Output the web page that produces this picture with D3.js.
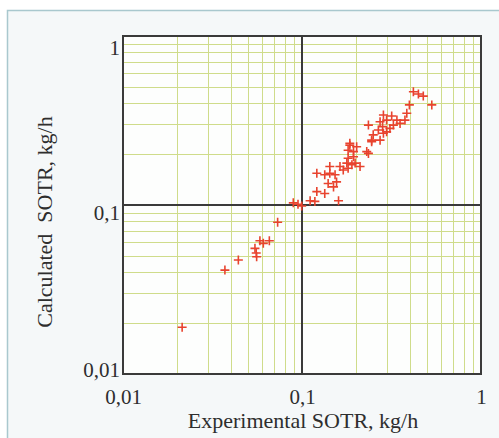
<!DOCTYPE html>
<html lang="en">
	<head>
		<meta charset="UTF-8" />
		<title>SOTR calculated vs experimental</title>
		<style>
			html,
			body {
				margin: 0;
				padding: 0;
				width: 499px;
				height: 438px;
				overflow: hidden;
				background-color: #ffffff;
			}

			svg text {
				font-family: 'Liberation Serif', 'Times New Roman', serif;
				fill: #2e2e2e;
			}
		</style>
	</head>
	<body>
		<svg id="chart" width="499" height="438"></svg>

		<script src="https://d3js.org/d3.v7.min.js"></script>

		<script>
			// experimental vs calculated SOTR, kg/h
			const expSOTR = [
				0.0214, 0.0371, 0.0441, 0.0546, 0.0558, 0.0582, 0.0608, 0.0657, 0.0555, 0.0731,
				0.0894, 0.095, 0.0996, 0.111, 0.118, 0.16, 0.121, 0.134, 0.14, 0.156,
				0.15, 0.134, 0.121, 0.143, 0.143, 0.153, 0.163, 0.17, 0.181, 0.19,
				0.178, 0.198, 0.181, 0.194, 0.211, 0.185, 0.202, 0.194, 0.181, 0.235,
				0.245, 0.185, 0.23, 0.419, 0.447, 0.476, 0.531, 0.398, 0.385, 0.376,
				0.353, 0.339, 0.317, 0.297, 0.285, 0.273, 0.282, 0.267, 0.285, 0.25,
				0.235, 0.245, 0.273, 0.297, 0.324, 0.31
			];
			const calcSOTR = [
				0.0189, 0.0412, 0.0473, 0.0554, 0.0494, 0.0615, 0.0593, 0.0615, 0.052, 0.079,
				0.103, 0.101, 0.0986, 0.106, 0.105, 0.106, 0.12, 0.117, 0.134, 0.137,
				0.128, 0.151, 0.154, 0.154, 0.169, 0.151, 0.169, 0.161, 0.165, 0.173,
				0.177, 0.177, 0.189, 0.193, 0.169, 0.226, 0.221, 0.207, 0.211, 0.202,
				0.237, 0.232, 0.207, 0.468, 0.454, 0.441, 0.391, 0.391, 0.349, 0.318,
				0.304, 0.318, 0.336, 0.318, 0.341, 0.311, 0.291, 0.278, 0.266, 0.26,
				0.297, 0.242, 0.242, 0.271, 0.297, 0.284
			];

			const tickValues = [0.01, 0.1, 1];
			const tickLabels = ['0,01', '0,1', '1'];
			const xTitle = 'Experimental SOTR, kg/h';
			const yTitle = 'Calculated\u00a0 SOTR, kg/h';

			const svg = d3.select('#chart');

			// scanned page panel
			svg.append('rect')
				.attr('x', 7.5)
				.attr('y', 10.5)
				.attr('width', 520)
				.attr('height', 440)
				.attr('fill', '#f5f8f9')
				.attr('stroke', '#a9c8ce')
				.attr('stroke-width', 1.5);

			const plotLeft = 123,
				plotRight = 481,
				plotTop = 36,
				plotBottom = 374;

			const x = d3.scaleLog().domain([0.01, 1]).range([plotLeft, plotRight]);
			const y = d3.scaleLog().domain([0.01, 1]).range([plotBottom, plotTop]);

			svg.append('rect')
				.attr('x', plotLeft)
				.attr('y', plotTop)
				.attr('width', plotRight - plotLeft)
				.attr('height', plotBottom - plotTop)
				.attr('fill', '#fdfefd');

			// minor grid
			const grid = svg.append('g').attr('stroke', '#cfdc8a').attr('stroke-width', 1);
			grid.selectAll('line.gx')
				.data(x.ticks())
				.join('line')
				.attr('class', 'gx')
				.attr('x1', (d) => Math.round(x(d)) + 0.5)
				.attr('x2', (d) => Math.round(x(d)) + 0.5)
				.attr('y1', plotTop)
				.attr('y2', plotBottom);
			grid.selectAll('line.gy')
				.data(y.ticks())
				.join('line')
				.attr('class', 'gy')
				.attr('y1', (d) => Math.round(y(d)) + 0.5)
				.attr('y2', (d) => Math.round(y(d)) + 0.5)
				.attr('x1', plotLeft)
				.attr('x2', plotRight);

			// decade lines and frame
			const major = svg.append('g').attr('stroke', '#3a3a3a').attr('stroke-width', 2);
			major.append('line').attr('x1', x(0.1)).attr('x2', x(0.1)).attr('y1', plotTop).attr('y2', plotBottom);
			major.append('line').attr('y1', y(0.1)).attr('y2', y(0.1)).attr('x1', plotLeft).attr('x2', plotRight);
			major.append('rect')
				.attr('x', plotLeft)
				.attr('y', plotTop)
				.attr('width', plotRight - plotLeft)
				.attr('height', plotBottom - plotTop)
				.attr('fill', 'none');

			// points
			const pts = expSOTR.map((d, i) => ({ x: d, y: calcSOTR[i] }));
			const h = 4.5;
			svg.append('g')
				.selectAll('path')
				.data(pts)
				.join('path')
				.attr('d', (d) => {
					const cx = x(d.x),
						cy = y(d.y);
					return `M${cx - h},${cy}H${cx + h}M${cx},${cy - h}V${cy + h}`;
				})
				.attr('stroke', '#e8432e')
				.attr('stroke-width', 1.6)
				.attr('fill', 'none');

			// tick labels
			const xAxis = svg.append('g')
				.attr('transform', `translate(0,${plotBottom})`)
				.call(
					d3.axisBottom(x)
						.tickValues(tickValues)
						.tickFormat((d, i) => tickLabels[i])
						.tickSize(0)
						.tickPadding(15)
				);
			xAxis.select('.domain').remove();
			xAxis.selectAll('text').attr('font-size', 21).style('font-family', null);

			// the scan puts the y labels a little off their lines, differently for each
			const yLabelDy = ['0.14em', '0.71em', '0.9em'];
			const yAxis = svg.append('g')
				.attr('transform', `translate(${plotLeft - 3},0)`)
				.call(
					d3.axisLeft(y)
						.tickValues(tickValues)
						.tickFormat((d, i) => tickLabels[i])
						.tickSize(0)
						.tickPadding(0)
				);
			yAxis.select('.domain').remove();
			yAxis.selectAll('text')
				.attr('font-size', 21)
				.attr('dy', (d, i) => yLabelDy[i])
				.style('font-family', null);
			svg.selectAll('.tick text').attr('fill', '#2e2e2e');

			// axis titles
			svg.append('text')
				.attr('x', (plotLeft + plotRight) / 2 + 1)
				.attr('y', 428)
				.attr('text-anchor', 'middle')
				.attr('font-size', 22)
				.text(xTitle);

			svg.append('text')
				.attr('transform', 'translate(52,222) rotate(-90)')
				.attr('text-anchor', 'middle')
				.attr('font-size', 22)
				.text(yTitle);
		</script>
	</body>
</html>
